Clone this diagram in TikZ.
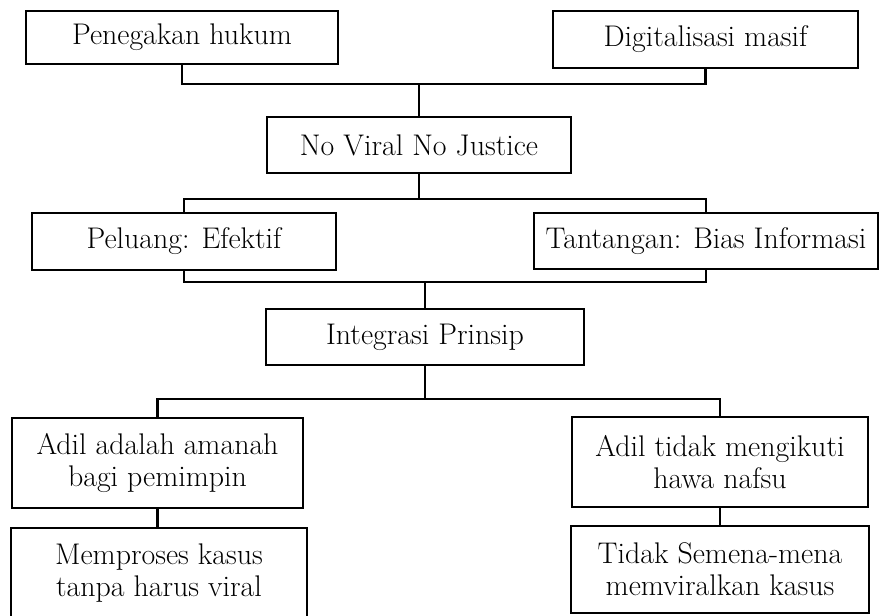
\documentclass[tikz,border=0pt]{standalone}
\usepackage{tikz}

\begin{document}
\begin{tikzpicture}[x=0.02cm,y=-0.02cm]
				\tikzstyle{every node}+=[inner sep=0pt]
				\tikzstyle{box}=[draw=black, line width=1.2pt, rectangle, align=center, font=\fontsize{17}{18.4}\selectfont]
				\tikzstyle{link}=[black, line width=1.2pt]
				\useasboundingbox (0,0) rectangle (881,615);
				\node [box, minimum width=6.24cm, minimum height=1.06cm] (pen) at (182,37.5) {Penegakan hukum};
				\node [box, minimum width=6.10cm, minimum height=1.14cm] (dig) at (705.5,39.5) {Digitalisasi masif};
				\node [box, minimum width=6.08cm, minimum height=1.12cm] (nvnj) at (419,145) {No Viral No Justice};
				\node [box, minimum width=6.08cm, minimum height=1.14cm] (pel) at (184,241.5) {Peluang: Efektif};
				\node [box, minimum width=6.88cm, minimum height=1.12cm] (tan) at (706,241) {Tantangan: Bias Informasi};
				\node [box, minimum width=6.36cm, minimum height=1.12cm] (int) at (425,337) {Integrasi Prinsip};
				\node [box, minimum width=5.82cm, minimum height=1.80cm] (adl1) at (157.5,463) {Adil adalah amanah\\bagi pemimpin};
				\node [box, minimum width=5.92cm, minimum height=1.80cm] (mem) at (159,573) {Memproses kasus\\tanpa harus viral};
				\node [box, minimum width=5.92cm, minimum height=1.80cm] (adl2) at (720,462) {Adil tidak mengikuti\\hawa nafsu};
				\node [box, minimum width=5.96cm, minimum height=1.74cm] (tid) at (720,569.5) {Tidak Semena-mena\\memviralkan kasus};
				% junctions
				\coordinate (j1) at (419,84);
				\coordinate (j2) at (419,199);
				\coordinate (j3) at (422,282);
				\coordinate (j4) at (426,399);
				\draw [link] (pen.south) |- (j1) -| (dig.south);
				\draw [link] (nvnj.north) -- (nvnj.north |- j1);
				\draw [link] (pel.north) |- (j2) -| (tan.north);
				\draw [link] (nvnj.south) -- (nvnj.south |- j2);
				\draw [link] (pel.south) |- (j3) -| (tan.south);
				\draw [link] (int.north) -- (int.north |- j3);
				\draw [link] (adl1.north) |- (j4) -| (adl2.north);
				\draw [link] (int.south) -- (int.south |- j4);
				\draw [link] (adl1.south) -- (adl1.south |- mem.north);
				\draw [link] (adl2.south) -- (adl2.south |- tid.north);
			\end{tikzpicture}
\end{document}
